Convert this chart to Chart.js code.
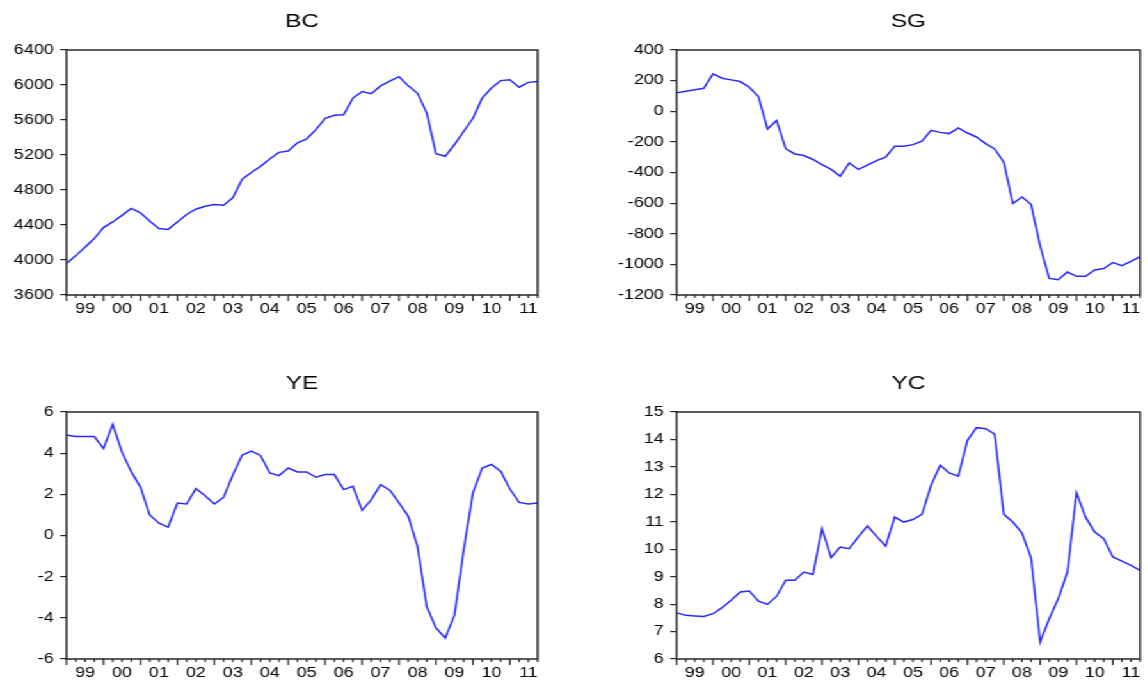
<!DOCTYPE html>
<html>
<head>
<meta charset="utf-8">
<script src="https://cdn.jsdelivr.net/npm/chart.js@4.4.1/dist/chart.umd.min.js"></script>
<style>
html, body { margin: 0; padding: 0; background: #fff; overflow: hidden; }
/* the reference is stretched sideways, so draw narrow and stretch */
#wrap { position: absolute; left: 0; top: 0; width: 897px; height: 680px; transform: scaleX(1.28); transform-origin: 0 0; }
.panel { position: absolute; height: 318px; }
</style>
</head>
<body>
<div id="wrap">
	<div class="panel" style="left:0;top:0;width:448px"><canvas id="bcChart"></canvas></div>
	<div class="panel" style="left:448px;top:0;width:449px"><canvas id="sgChart"></canvas></div>
	<div class="panel" style="left:0;top:362px;width:448px"><canvas id="yeChart"></canvas></div>
	<div class="panel" style="left:448px;top:362px;width:449px"><canvas id="ycChart"></canvas></div>
</div>
<script>
// quarterly, 1999Q1 - 2011Q4
var yearLabels = ["99", "00", "01", "02", "03", "04", "05", "06", "07", "08", "09", "10", "11"];

var bcValues = [3960, 4050, 4145, 4245, 4370, 4435, 4510, 4590, 4540, 4445, 4360, 4350,
	4435, 4520, 4580, 4615, 4635, 4625, 4710, 4920, 5000, 5070, 5155, 5230,
	5245, 5340, 5385, 5490, 5620, 5655, 5660, 5850, 5925, 5900, 5990, 6045,
	6095, 5990, 5905, 5680, 5215, 5185, 5320, 5470, 5620, 5850, 5965, 6050,
	6060, 5975, 6030, 6040];
var sgValues = [120, 130, 140, 150, 244, 216, 205, 194, 157, 96, -116, -60,
	-244, -279, -289, -315, -348, -380, -424, -337, -380, -352, -322, -300,
	-229, -229, -218, -196, -125, -138, -146, -109, -142, -168, -211, -246,
	-333, -602, -560, -608, -879, -1092, -1100, -1050, -1078, -1078, -1037, -1027,
	-988, -1008, -980, -950];
var yeValues = [4.88, 4.81, 4.81, 4.81, 4.23, 5.40, 4.05, 3.1, 2.35, 1.0, 0.6, 0.41,
	1.58, 1.53, 2.28, 1.93, 1.53, 1.85, 2.94, 3.9, 4.1, 3.89, 3.04, 2.91,
	3.28, 3.09, 3.09, 2.83, 2.96, 2.96, 2.23, 2.39, 1.22, 1.74, 2.47, 2.2,
	1.58, 0.93, -0.54, -3.46, -4.49, -4.98, -3.87, -0.70, 2.07, 3.28, 3.45, 3.12,
	2.26, 1.61, 1.53, 1.58];
var ycValues = [7.68, 7.59, 7.57, 7.55, 7.65, 7.87, 8.14, 8.44, 8.48, 8.11, 7.99, 8.28,
	8.87, 8.87, 9.17, 9.08, 10.75, 9.69, 10.08, 10.02, 10.45, 10.85, 10.47, 10.12,
	11.17, 10.99, 11.08, 11.27, 12.33, 13.06, 12.78, 12.66, 13.97, 14.43, 14.39, 14.19,
	11.27, 10.99, 10.59, 9.69, 6.62, 7.47, 8.2, 9.17, 12.06, 11.17, 10.63, 10.38,
	9.72, 9.57, 9.41, 9.23];

var bcTicks = [3600, 6400, 400];
var sgTicks = [-1200, 400, 200];
var yeTicks = [-6, 6, 2];
var ycTicks = [6, 15, 1];

var Panels = function () {
	"use strict";
	var ink = "#262626";
	var tickFont = { family: "Liberation Sans", size: 14 };

	// box round the plot and the quarter ticks under it
	var framePlugin = {
		id: "frame",
		afterDraw: function (chart) {
			var ctx = chart.ctx, a = chart.chartArea, xs = chart.scales.x;
			ctx.save();
			ctx.strokeStyle = ink;
			ctx.lineWidth = 1.5;
			ctx.strokeRect(a.left, a.top, a.right - a.left, a.bottom - a.top);
			ctx.lineWidth = 1.2;
			ctx.beginPath();
			for (var q = 0; q <= xs.max; q++) {
				var px = xs.getPixelForValue(q);
				ctx.moveTo(px, a.bottom);
				ctx.lineTo(px, a.bottom + (q % 4 === 0 ? 6 : 3));
			}
			ctx.stroke();
			ctx.restore();
		}
	};

	var lineHandler = function (id, title, values, yTicks, axisWidth, padLeft, padRight, xHeight) {
		var points = values.map(function (v, i) { return { x: i, y: v }; });
		var ctx = document.getElementById(id);
		return new Chart(ctx, {
			type: "line",
			data: {
				datasets: [{
					label: title,
					data: points,
					borderColor: "rgb(40,40,255)",
					borderWidth: 1.5,
					pointRadius: 0,
					tension: 0,
					fill: false
				}]
			},
			options: {
				responsive: true,
				maintainAspectRatio: false,
				devicePixelRatio: 1,
				animation: false,
				layout: { padding: { left: padLeft, right: padRight, top: 0, bottom: 0 } },
				plugins: {
					legend: { display: false },
					tooltip: { enabled: false },
					title: {
						display: true,
						text: title,
						fullSize: false,
						color: "#000",
						font: { family: "Liberation Sans", size: 19, weight: "normal" },
						padding: { top: 10, bottom: 17.2 }
					}
				},
				scales: {
					x: {
						type: "linear",
						min: 0,
						max: values.length - 1,
						afterBuildTicks: function (scale) {
							scale.ticks = yearLabels.map(function (l, i) { return { value: 4 * i + 2 }; });
						},
						afterFit: function (scale) { scale.height = xHeight; },
						grid: { display: false, drawTicks: false },
						border: { display: false },
						ticks: {
							autoSkip: false,
							maxRotation: 0,
							padding: 6,
							color: "#000",
							font: tickFont,
							callback: function (v, i) { return yearLabels[i]; }
						}
					},
					y: {
						min: yTicks[0],
						max: yTicks[1],
						afterFit: function (scale) { scale.width = axisWidth; },
						grid: { drawOnChartArea: false, drawTicks: true, tickLength: 5, color: ink, lineWidth: 1.2 },
						border: { display: false },
						ticks: {
							stepSize: yTicks[2],
							padding: 5,
							color: "#000",
							font: tickFont,
							callback: function (v) { return String(v); }
						}
					}
				}
			},
			plugins: [framePlugin]
		});
	};

	return {
		init: function () {
			lineHandler("bcChart", "BC", bcValues, bcTicks, 52, 0, 28, 23);
			lineHandler("sgChart", "SG", sgValues, sgTicks, 80.6, 0, 1.3, 23);
			lineHandler("yeChart", "YE", yeValues, yeTicks, 52, 0, 28, 21);
			lineHandler("ycChart", "YC", ycValues, ycTicks, 80.6, 0, 1.3, 21);
		}
	};
}();

Panels.init();
</script>
</body>
</html>
